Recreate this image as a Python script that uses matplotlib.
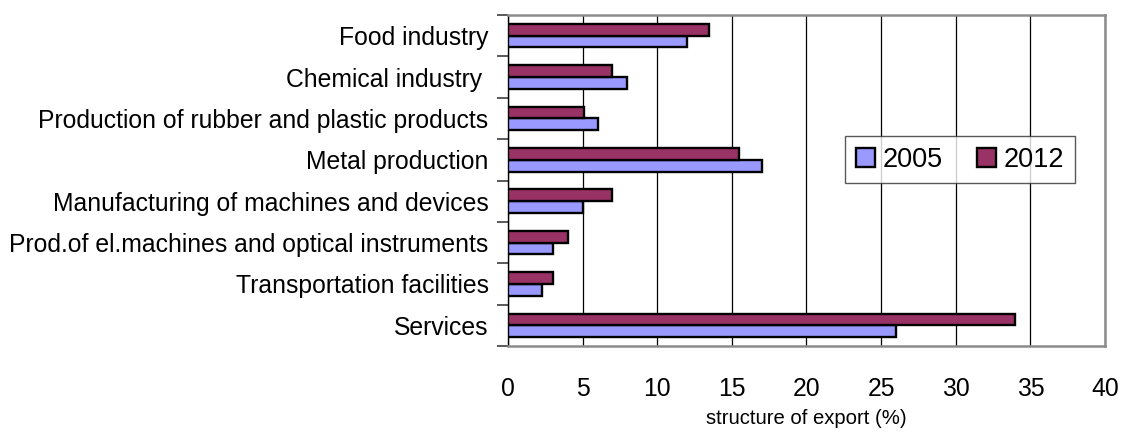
import matplotlib
matplotlib.use("Agg")
import matplotlib.pyplot as plt
import numpy as np

categories = [
    "Food industry",
    "Chemical industry ",
    "Production of rubber and plastic products",
    "Metal production",
    "Manufacturing of machines and devices",
    "Prod.of el.machines and optical instruments",
    "Transportation facilities",
    "Services",
]
values_2005 = [12.0, 8.0, 6.0, 17.0, 5.0, 3.0, 2.3, 26.0]
values_2012 = [13.5, 7.0, 5.1, 15.5, 7.0, 4.0, 3.0, 34.0]
series_labels = ["2005", "2012"]
x_ticks = [0, 5, 10, 15, 20, 25, 30, 35, 40]

plt.rcParams["font.family"] = ["Liberation Sans", "DejaVu Sans"]

fig = plt.figure(figsize=(11.25, 4.38), dpi=100)
ax = fig.add_axes([508 / 1125, 1 - 346 / 438, (1105 - 508) / 1125, (346 - 15) / 438])

y = np.arange(len(categories))
h = 0.285
color_2005 = "#9999FF"
color_2012 = "#993366"

b05 = ax.barh(y + h / 2, values_2005, height=h, color=color_2005,
              edgecolor="black", linewidth=1.7, zorder=3, label=series_labels[0])
b12 = ax.barh(y - h / 2, values_2012, height=h, color=color_2012,
              edgecolor="black", linewidth=1.7, zorder=3, label=series_labels[1])

ax.set_ylim(len(categories) - 0.5, -0.5)
ax.set_xlim(0, 40)
ax.set_xticks(x_ticks)
ax.set_xticklabels([str(t) for t in x_ticks], fontsize=17.8)
ax.tick_params(axis="x", length=0, pad=22)

# category labels at the centres, tick marks at the boundaries
ax.set_yticks(y)
ax.set_yticklabels(categories, fontsize=17.8)
ax.tick_params(axis="y", which="major", length=0, pad=14)
ax.set_yticks(np.arange(len(categories) + 1) - 0.5, minor=True)
ax.tick_params(axis="y", which="minor", length=8, width=1.2, color="#404040")

ax.xaxis.grid(True, color="black", linewidth=0.9, zorder=0)
ax.set_axisbelow(True)

for side in ("top", "right", "bottom"):
    ax.spines[side].set_color("#8c8c8c")
    ax.spines[side].set_linewidth(1.8)
ax.spines["left"].set_color("black")
ax.spines["left"].set_linewidth(1.0)

ax.set_xlabel("structure of export (%)", fontsize=14.6, labelpad=6)

leg = ax.legend(handles=[b05, b12], labels=series_labels, ncol=2, loc="center",
                bbox_to_anchor=(0.757, 0.563), fontsize=19.5, frameon=True,
                fancybox=False, handlelength=0.7, handleheight=0.7,
                handletextpad=0.28, columnspacing=1.25, borderpad=0.4,
                borderaxespad=0)
leg.get_frame().set_edgecolor("#303030")
leg.get_frame().set_linewidth(1.0)

fig.savefig("out.png", dpi=100, facecolor="white")
